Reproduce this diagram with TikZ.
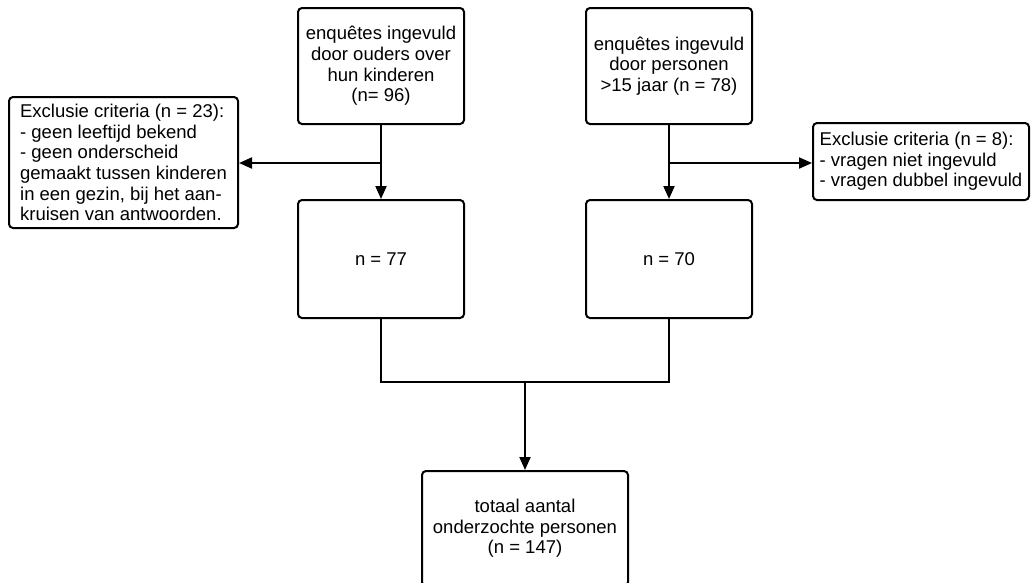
\documentclass[tikz,border=0pt]{standalone}
\usepackage{fontspec}
\setmainfont{Liberation Sans}
\usepackage{tikz}
\usetikzlibrary{arrows.meta}

\tikzset{
	box/.style={draw=black, line width=2pt, rounded corners=4pt, fill=white, align=center, font=\fontsize{18.5}{20.7}\selectfont, inner sep=6pt},
	exclbox/.style={box, align=left},
	pijl/.style={line width=2pt, -{Triangle[length=13pt,width=11pt]}},
	lijn/.style={line width=2pt}
}

\begin{document}
\begin{tikzpicture}[x=1pt,y=-1pt]
				\useasboundingbox (0,0) rectangle (1031,582);
	
				\node[box, minimum width=166pt, minimum height=116pt] (ouders) at (381,66) {enquêtes ingevuld\\door ouders over\\hun kinderen\\(n= 96)};
				\node[box, minimum width=166pt, minimum height=116pt] (personen) at (669,66) {enquêtes ingevuld\\door personen\\>15 jaar (n = 78)};
	
				\node[box, minimum width=166pt, minimum height=118pt] (nzeven) at (381,259) {n = 77};
				\node[box, minimum width=166pt, minimum height=118pt] (nnul) at (669,259) {n = 70};
	
				\node[exclbox, minimum width=229pt, minimum height=131pt] (exclouders) at (123.5,162.5) {Exclusie criteria (n = 23):\\- geen leeftijd bekend\\- geen onderscheid\\gemaakt tussen kinderen\\in een gezin, bij het aan-\\kruisen van antwoorden.};
				\node[exclbox, minimum width=216pt, minimum height=77pt] (exclpersonen) at (921,161.5) {Exclusie criteria (n = 8):\\- vragen niet ingevuld\\- vragen dubbel ingevuld};
	
				\node[box, minimum width=206pt, minimum height=115pt] (totaal) at (525,528.5) {totaal aantal\\onderzochte personen\\(n = 147)};
	
				% splitsingen en samenvoeging
				\coordinate (splitlinks) at (381,163);
				\coordinate (splitrechts) at (669,163);
				\coordinate (samen) at (525,382);
	
				\draw[pijl] (ouders) -- (nzeven);
				\draw[pijl] (personen) -- (nnul);
				\draw[pijl] (splitlinks) -- (splitlinks -| exclouders.east);
				\draw[pijl] (splitrechts) -- (splitrechts -| exclpersonen.west);
	
				\draw[lijn] (nzeven.south) |- (samen) -| (nnul.south);
				\draw[pijl] (samen) -- (totaal);
			\end{tikzpicture}
\end{document}
